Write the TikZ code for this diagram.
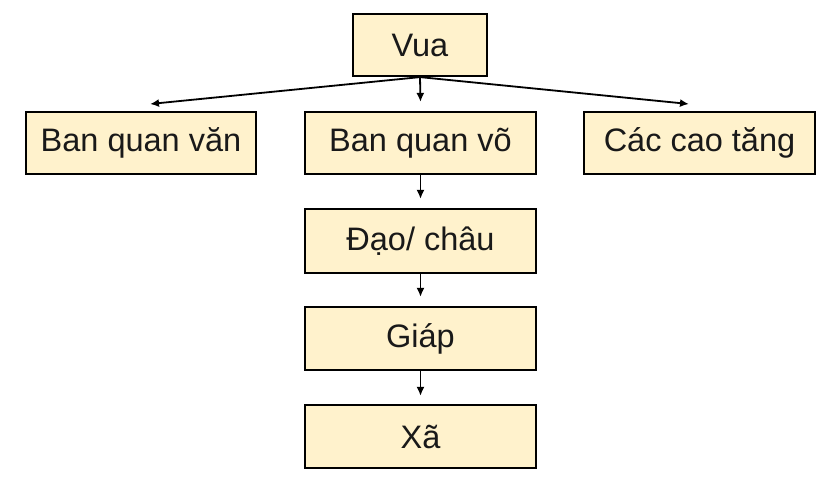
\documentclass[tikz,border=0pt]{standalone}
\usepackage{fontspec}
\setmainfont{Liberation Sans}
\usetikzlibrary{arrows.meta}
\definecolor{boxfill}{HTML}{FFF2CC}
\tikzset{
  orgbox/.style={draw=black, line width=2.2pt, fill=boxfill, rectangle, inner sep=0pt,
    minimum height=62pt, font=\fontsize{32.5}{38}\selectfont, text=black!90},
  link/.style={line width=1.8pt, -{Latex[length=9pt,width=8pt]}}
}
\begin{document}
\begin{tikzpicture}[x=1pt,y=-1pt]
\useasboundingbox (0,0) rectangle (831,480);
\fill[white] (0,0) rectangle (831,480);
\node[orgbox, minimum width=134pt] (vua) at (420,45) {Vua};
\node[orgbox, minimum width=230pt] (van) at (141,143) {Ban quan văn};
\node[orgbox, minimum width=231pt] (vo) at (420.5,143) {Ban quan võ};
\node[orgbox, minimum width=231pt] (tang) at (699.5,143) {Các cao tăng};
\node[orgbox, minimum width=231pt, minimum height=64pt] (dao) at (420.5,241) {Đạo/ châu};
\node[orgbox, minimum width=231pt, minimum height=63pt] (giap) at (420.5,338.5) {Giáp};
\node[orgbox, minimum width=231pt, minimum height=63pt] (xa) at (420.5,436.5) {Xã};
\coordinate (vanend) at (150,104);
\coordinate (tangend) at (689,104);
\draw[link] (vua.south) -- (vanend);
\draw[link] (vua.south) -- (tangend);
\draw[link] (vua.south) -- ([yshift=9pt]vo.north);
\draw[link] (vo.south) -- ([yshift=9pt]dao.north);
\draw[link] (dao.south) -- ([yshift=9pt]giap.north);
\draw[link] (giap.south) -- ([yshift=8pt]xa.north);
\end{tikzpicture}
\end{document}
